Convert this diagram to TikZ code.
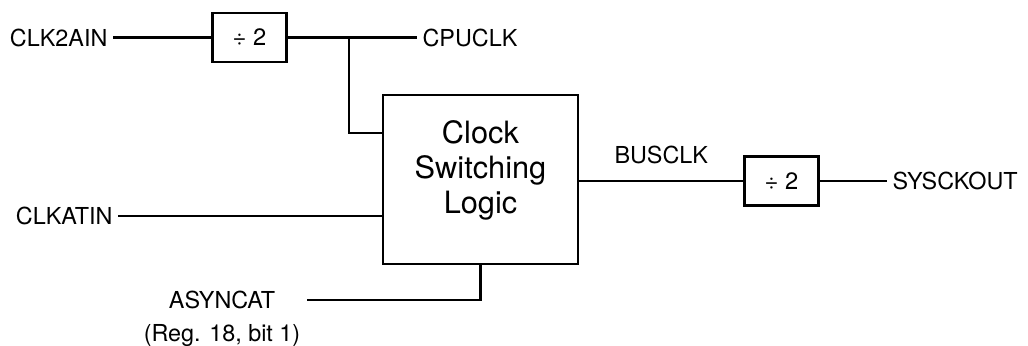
\documentclass[tikz,border=0pt]{standalone}
\usepackage{fontspec}
\setmainfont{TeX Gyre Heros}
\usepackage{tikz}
\usetikzlibrary{positioning,calc}

\begin{document}
\begin{tikzpicture}[
  x=0.02cm, y=-0.02cm,
  wire/.style={line width=1.4pt},
  divbox/.style={rectangle, draw, line width=1.6pt, minimum width=1.48cm, minimum height=0.98cm, inner sep=0pt, font=\fontsize{13.5}{15}\selectfont},
  logicbox/.style={rectangle, draw, line width=1.6pt, minimum width=3.9cm, minimum height=3.38cm},
  bigtxt/.style={align=center, inner sep=0pt, font=\fontsize{17.5}{20}\selectfont},
  sig/.style={inner sep=3pt, font=\fontsize{13.3}{15}\selectfont}
]
\useasboundingbox (0,0) rectangle (1028,345);
\node[logicbox] (logic) at (480.5,179.5) {};
\node[bigtxt] (logictext) at ([yshift=5pt]logic.center) {Clock\\Switching\\Logic};
\node[divbox] (div1) at (249.5,37.5) {÷ 2};
\node[divbox] (div2) at (781.5,181) {÷ 2};
\node[sig, anchor=east] (clk2ain) at (113,37.5) {CLK2AIN};
\node[sig, anchor=west] (cpuclk) at (417,37.5) {CPUCLK};
\node[sig, anchor=east] (clkatin) at (118,216) {CLKATIN};
\node[sig, anchor=west] (sysckout) at (887,181) {SYSCKOUT};
\node[sig] (asyncat) at (222,300) {ASYNCAT};
\node[sig] (reg) at (222,336) {(Reg. 18, bit 1)};
\coordinate (tap) at (349,37.5);
\coordinate (cpuin) at (383,133);
\draw[wire] (clk2ain.east) -- (div1.west);
\draw[wire] (div1.east) -- (cpuclk.west);
\draw[wire] (tap) |- (cpuin);
\draw[wire] (clkatin.east) -- (clkatin.east -| logic.west);
\draw[wire] ([xshift=15pt]asyncat.east) -| (logic.south);
\draw[wire] (logic.east |- div2.west) -- node[sig, midway, above=6pt] (busclk) {BUSCLK} (div2.west);
\draw[wire] (div2.east) -- (sysckout.west);
\end{tikzpicture}
\end{document}
